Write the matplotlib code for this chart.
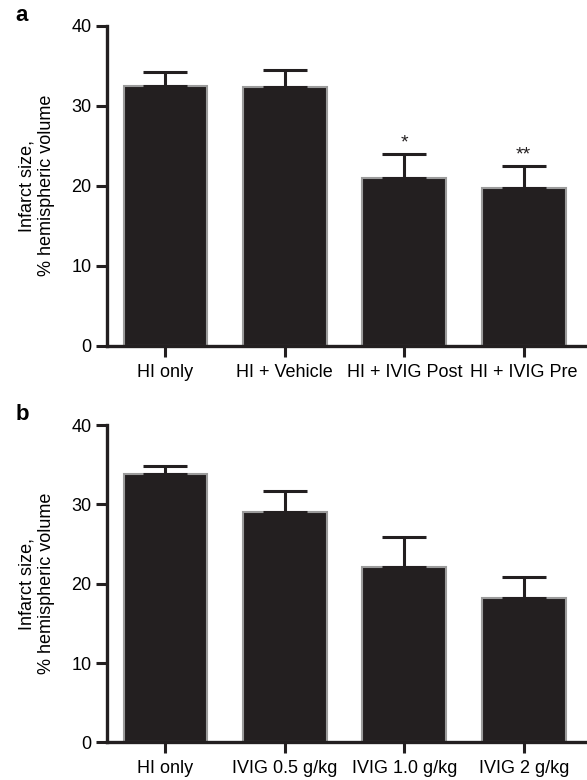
import matplotlib
matplotlib.use("Agg")
import matplotlib.pyplot as plt
import numpy as np

plt.rcParams['font.family'] = ['Liberation Sans', 'DejaVu Sans']

# panel a
groups_a = ["HI only", "HI + Vehicle", "HI + IVIG Post", "HI + IVIG Pre"]
means_a = [32.5, 32.3, 20.9, 19.7]
sem_a = [1.7, 2.2, 3.05, 2.8]
stars_a = ["", "", "*", "**"]

# panel b
groups_b = ["HI only", "IVIG 0.5 g/kg", "IVIG 1.0 g/kg", "IVIG 2 g/kg"]
means_b = [33.8, 29.0, 22.1, 18.2]
sem_b = [1.1, 2.7, 3.8, 2.7]
stars_b = ["", "", "", ""]

ylabel = "Infarct size,\n% hemispheric volume"

fig = plt.figure(figsize=(5.87, 7.80), dpi=100)


def draw_panel(rect, groups, means, sems, stars, letter):
    ax = fig.add_axes(rect)
    x = np.arange(len(groups))
    ax.bar(x, means, width=0.70, color='#231f20', edgecolor='#9b9b9b',
           linewidth=1.5, zorder=2)
    ax.errorbar(x, means, yerr=[np.zeros(len(sems)), sems], fmt='none',
                ecolor='#231f20', elinewidth=2.2, capsize=15.5, capthick=2.2,
                zorder=3)
    for xi, m, s, st in zip(x, means, sems, stars):
        if st:
            ax.text(xi, m + s + 0.3, st, ha='center', va='bottom',
                    fontsize=14, color='#231f20')
    ax.set_xlim(-0.49, 3.53)
    ax.set_ylim(0, 40)
    ax.set_yticks([0, 10, 20, 30, 40])
    ax.set_xticks(x)
    ax.set_xticklabels(groups, fontsize=13)
    ax.tick_params(axis='y', labelsize=13, width=2.2, length=8,
                   color='#231f20', pad=3)
    ax.tick_params(axis='x', width=2.2, length=8, color='#231f20', pad=5)
    for side in ['top', 'right']:
        ax.spines[side].set_visible(False)
    for side in ['left', 'bottom']:
        ax.spines[side].set_linewidth(2.4)
        ax.spines[side].set_color('#231f20')
    ax.set_ylabel(ylabel, fontsize=13, labelpad=12)
    ax.text(-0.19, 1.0, letter, transform=ax.transAxes, fontsize=16,
            fontweight='bold', ha='left', va='bottom')
    return ax


draw_panel([0.182, 0.557, 0.818, 0.41], groups_a, means_a, sem_a, stars_a, "a")
draw_panel([0.182, 0.0483, 0.818, 0.4067], groups_b, means_b, sem_b, stars_b, "b")

fig.savefig("out.png", dpi=100)
